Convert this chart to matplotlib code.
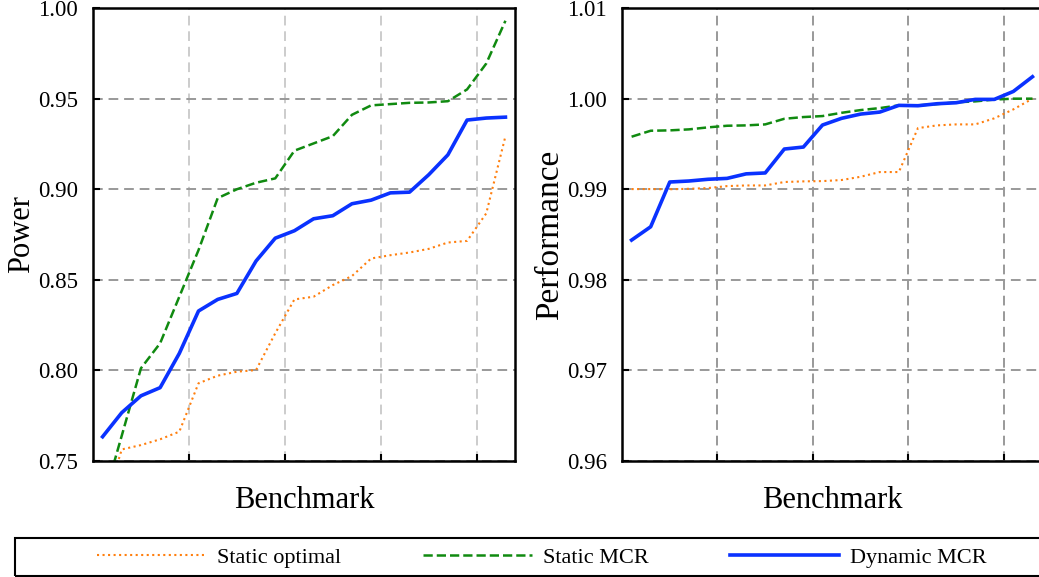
import numpy as np
import matplotlib
matplotlib.use("Agg")
import matplotlib.pyplot as plt
from matplotlib.patches import Rectangle

matplotlib.rcParams['font.family'] = "Liberation Serif"
matplotlib.rcParams['font.size'] = 16

####################################
### Normalised results per bench ###
####################################
# benchmarks are sorted by value, one point per benchmark
n_bench = 22
bench = np.arange(n_bench) + 0.5

power_static_opt = [0.722, 0.7564, 0.7588, 0.762, 0.7662, 0.7929, 0.7971, 0.7993,
                    0.8002, 0.8205, 0.8392, 0.8407, 0.8471, 0.8521, 0.8618, 0.8636,
                    0.8651, 0.8671, 0.8706, 0.8715, 0.8867, 0.9293]
power_static_mcr = [0.727, 0.764, 0.8012, 0.815, 0.8407, 0.8664, 0.8951, 0.900,
                    0.9036, 0.906, 0.9213, 0.9253, 0.9293, 0.9411, 0.9463, 0.947,
                    0.9477, 0.9479, 0.9486, 0.9551, 0.9694, 0.993]
power_dynamic_mcr = [0.7634, 0.7767, 0.786, 0.7905, 0.8094, 0.8328, 0.8392, 0.8425,
                     0.8604, 0.873, 0.8771, 0.8837, 0.8854, 0.892, 0.894, 0.898,
                     0.8984, 0.908, 0.919, 0.9382, 0.9393, 0.9398]

perf_static_opt = [0.99002, 0.99002, 0.9900, 0.99005, 0.99013, 0.99035, 0.99042, 0.99042,
                   0.9908, 0.99087, 0.9909, 0.99102, 0.99138, 0.9919, 0.9919, 0.99675,
                   0.99705, 0.99716, 0.99716, 0.99783, 0.99882, 1.0000]
perf_static_mcr = [0.9958, 0.99646, 0.9965, 0.99661, 0.99683, 0.99701, 0.99705, 0.99716,
                   0.99778, 0.99797, 0.99808, 0.99844, 0.99874, 0.99896, 0.99926, 0.99926,
                   0.9994, 0.9996, 0.9997, 0.9999, 1.0000, 1.0000]
perf_dynamic_mcr = [0.98439, 0.98586, 0.9908, 0.99091, 0.9911, 0.9912, 0.9917, 0.9918,
                    0.99444, 0.99466, 0.99709, 0.99783, 0.9983, 0.99852, 0.99926, 0.99922,
                    0.99944, 0.99955, 0.99992, 0.99992, 1.0008, 1.00242]

power_ticks = [0.75, 0.80, 0.85, 0.90, 0.95, 1.00]
perf_ticks = [0.96, 0.97, 0.98, 0.99, 1.00, 1.01]
bench_ticks = [5, 10, 15, 20]

labels = ["Static optimal", "Static MCR", "Dynamic MCR"]

########################
# Now plot the results #
########################
fig = plt.figure(figsize=(10.39, 5.77), dpi=100)
ax1 = fig.add_axes([0.0895, 0.201, 0.4062, 0.785])
ax2 = fig.add_axes([0.5987, 0.201, 0.4042, 0.785])

dash = (0, (5, 3))

def style_axis(ax, yticks, ylabel, vgrid_color, ylabel_size):
    ax.set_xlim(0, n_bench)
    ax.set_ylim(yticks[0], yticks[-1])
    ax.set_yticks(yticks)
    ax.set_yticklabels(["%.2f" % t for t in yticks])
    ax.set_xticks(bench_ticks)
    ax.set_xticklabels([])
    ax.tick_params(direction="in", length=5, width=1.5, pad=11, labelsize=16.5)
    for s in ax.spines.values():
        s.set_linewidth(1.8)
    ax.yaxis.grid(True, color="#999999", linestyle=dash, linewidth=1.4)
    ax.xaxis.grid(True, color=vgrid_color, linestyle=dash, linewidth=1.4)
    ax.set_axisbelow(True)
    ax.set_xlabel("Benchmark", fontsize=22, labelpad=7)
    ax.set_ylabel(ylabel, fontsize=ylabel_size, labelpad=1)

def draw_lines(ax, s_opt, s_mcr, d_mcr):
    l1, = ax.plot(bench, s_opt, color="#ff7f0e", linestyle=":", linewidth=1.5)
    l2, = ax.plot(bench, s_mcr, color="#108a10", linestyle="--", linewidth=1.8)
    l3, = ax.plot(bench, d_mcr, color="#0a32ff", linestyle="-", linewidth=2.6)
    return [l1, l2, l3]

handles = draw_lines(ax1, power_static_opt, power_static_mcr, power_dynamic_mcr)
draw_lines(ax2, perf_static_opt, perf_static_mcr, perf_dynamic_mcr)
style_axis(ax1, power_ticks, "Power", "#cccccc", 22)
style_axis(ax2, perf_ticks, "Performance", "#999999", 24)

# shared legend below both panels, inside a wide box
fig.legend(handles, labels, loc="center", bbox_to_anchor=(542 / 1039., 1 - 558 / 577.),
           ncol=3, frameon=False, fontsize=16, handlelength=4.9,
           handletextpad=0.5, columnspacing=3.67)
fig.patches.append(Rectangle((15 / 1039., 1 - 576 / 577.), 1.0, 38 / 577.,
                             transform=fig.transFigure, fill=False,
                             edgecolor="black", linewidth=1.5))

fig.savefig("out.png", dpi=100)
